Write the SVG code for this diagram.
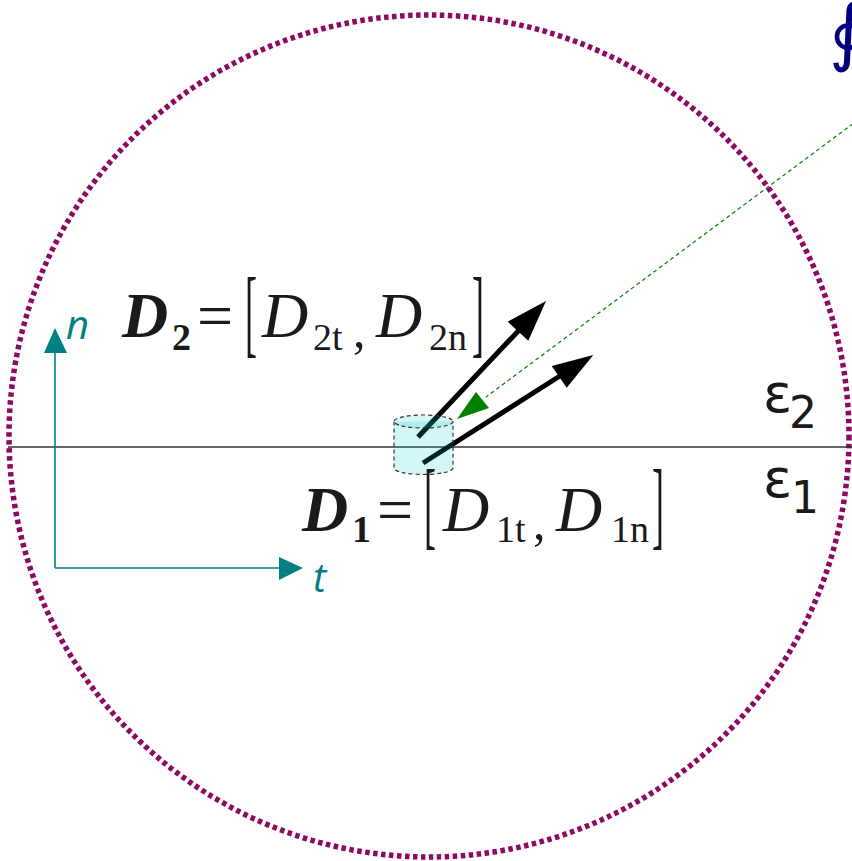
<svg xmlns="http://www.w3.org/2000/svg" width="852" height="861" viewBox="0 0 852 861">
<style>
.f{font-family:"Liberation Serif","Times New Roman",serif;fill:#1a1a1a}
.bi{font-weight:bold;font-style:italic;font-size:64px}
.it{font-style:italic;font-size:64px}
.sb{font-size:38px}
.br{font-size:36px}
.eps{font-family:"DejaVu Sans",sans-serif;fill:#1a1a1a}
.ax{font-family:"Open Sans","DejaVu Sans",sans-serif;font-style:italic;font-size:40px;fill:#008080}
</style>
<rect width="852" height="861" fill="#ffffff"/>
<g id="boundary">
<ellipse cx="429" cy="436" rx="420" ry="421" fill="none" stroke="#8e0a62" stroke-width="5.5" stroke-dasharray="4.5 3.5"/>
</g>
<g id="integral">
<text x="829" y="57" font-family="DejaVu Sans,sans-serif" font-size="74" fill="#000080">∮</text>
</g>
<g id="interface">
<line x1="8" y1="447" x2="852" y2="447" stroke="#333333" stroke-width="1.5"/>
</g>
<g id="connectors">
<line x1="870" y1="111" x2="486" y2="397" stroke="#008000" stroke-width="1.2" stroke-dasharray="4 3"/>
<polygon points="457,419 476,392 489,408" fill="#008000"/>
<line x1="418" y1="437" x2="522" y2="327" stroke="#000" stroke-width="5"/>
<polygon points="546,301 507.7,321.7 528.3,340.7" fill="#000"/>
<line x1="423" y1="463" x2="563" y2="374" stroke="#000" stroke-width="5"/>
<polygon points="593.3,355 551.7,366 566.7,387.7" fill="#000"/>
<line x1="55" y1="568" x2="55" y2="350" stroke="#008080" stroke-width="1.6"/>
<polygon points="55,328 44,353 67,353" fill="#008080"/>
<line x1="55" y1="568" x2="282" y2="568" stroke="#008080" stroke-width="1.6"/>
<polygon points="303,568 279,557 279,580" fill="#008080"/>
</g>
<g id="pillbox">
<path d="M394,421.5 V468 A29.5,6.5 0 0 0 453,468 V421.5" fill="#00cccc" fill-opacity="0.17" stroke="#333" stroke-width="1.2" stroke-dasharray="4 3"/>
<ellipse cx="423.5" cy="421.5" rx="29.5" ry="6.5" fill="#00cccc" fill-opacity="0.17" stroke="#333" stroke-width="1.2" stroke-dasharray="4 3"/>
</g>
<g id="axis-labels">
<text class="ax" x="66" y="339">n</text>
<text class="ax" x="313" y="592">t</text>
</g>
<g id="eps-labels">
<text class="eps" x="763" y="412" font-size="54">ε</text>
<text class="eps" x="789" y="428" font-size="44">2</text>
<text class="eps" x="763" y="497" font-size="54">ε</text>
<text class="eps" x="791" y="513" font-size="44">1</text>
</g>
<g id="D2">
<text class="f bi" x="122" y="337">D</text>
<text class="f sb" x="172" y="350" font-weight="bold">2</text>
<text class="f" x="197" y="337" font-size="64">=</text>
<text class="f br" transform="translate(245,344.8) scale(1,2.72)">[</text>
<text class="f it" x="262" y="337">D</text>
<text class="f sb" x="313" y="350">2t</text>
<text class="f" x="353" y="347" font-size="50">,</text>
<text class="f it" x="376" y="337">D</text>
<text class="f sb" x="429" y="350">2n</text>
<text class="f br" transform="translate(472,344.8) scale(1,2.72)">]</text>
</g>
<g id="D1">
<text class="f bi" x="302" y="531">D</text>
<text class="f sb" x="352" y="542" font-weight="bold">1</text>
<text class="f" x="377" y="531" font-size="64">=</text>
<text class="f br" transform="translate(424,536.8) scale(1,2.72)">[</text>
<text class="f it" x="443" y="531">D</text>
<text class="f sb" x="496" y="542">1t</text>
<text class="f" x="533" y="539" font-size="50">,</text>
<text class="f it" x="556" y="531">D</text>
<text class="f sb" x="611" y="542">1n</text>
<text class="f br" transform="translate(652,536.8) scale(1,2.72)">]</text>
</g>
</svg>
